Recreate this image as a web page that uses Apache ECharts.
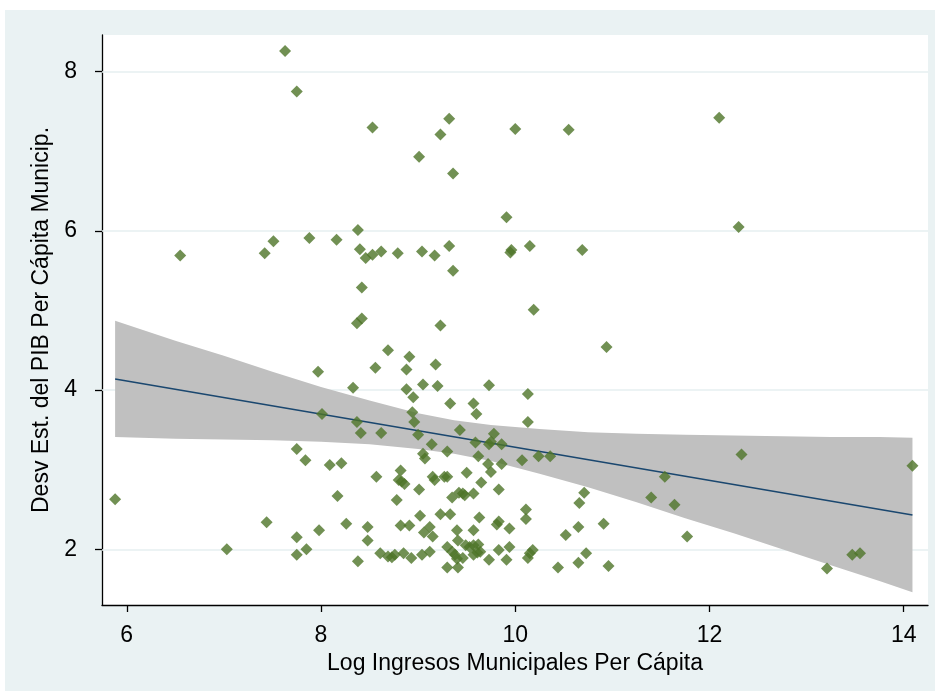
<!DOCTYPE html>
<html>
<head>
<meta charset="utf-8">
<script src="https://cdn.jsdelivr.net/npm/echarts@6/dist/echarts.min.js"></script>
<style>
html,body{margin:0;padding:0;background:#fff;}
#chart{width:939px;height:691px;}
</style>
</head>
<body>
<div id="chart"></div>
<script>
// Scatter data: Log Ingresos Municipales Per Cápita (x) vs Desv Est. del PIB Per Cápita Municip. (y)
const logIngresos = [
7.63,7.75,8.53,8.38,6.55,7.42,7.51,7.88,8.16,8.40,8.46,8.53,8.62,8.42,8.37,8.42,
9.32,9.23,10.00,10.55,9.01,9.36,9.91,8.79,9.04,9.17,9.32,9.36,9.96,9.95,10.15,10.69,10.19,9.23,
12.10,12.30,12.33,14.09,13.21,13.47,13.55,11.77,10.94,
8.69,8.91,8.56,8.88,9.18,7.97,8.33,8.88,9.05,9.20,8.95,9.33,8.01,8.94,8.96,8.37,8.41,8.62,9.00,9.43,
9.73,9.57,9.60,10.13,10.13,9.78,9.14,9.59,9.73,9.75,9.86,9.30,9.05,9.07,9.62,10.07,10.24,10.36,
9.72,9.86,9.75,8.82,8.80,8.86,8.83,9.15,9.17,9.27,9.30,9.50,9.65,9.01,9.83,8.78,9.35,9.42,9.46,9.48,9.57,
10.71,10.66,9.23,9.33,9.02,9.63,10.11,10.11,8.82,8.91,9.12,9.06,9.15,9.40,9.57,9.83,9.81,9.94,10.65,10.52,10.91,
9.41,9.49,9.53,9.57,9.62,9.30,9.35,9.38,9.64,9.57,9.46,9.73,9.83,9.94,9.91,10.15,10.18,10.13,10.73,10.65,10.44,10.96,
9.30,9.41,9.04,9.12,8.85,8.93,11.54,11.40,11.64,
7.75,7.84,8.09,8.21,8.57,8.17,5.88,7.44,8.26,8.48,7.98,7.75,8.48,7.03,7.85,7.75,8.38,8.61,8.69,8.73,8.76,9.40,9.61
];
const desvPIB = [
8.26,7.75,7.30,6.01,5.69,5.72,5.87,5.91,5.89,5.77,5.66,5.70,5.74,5.29,4.84,4.90,
7.41,7.21,7.28,7.27,6.93,6.72,6.17,5.72,5.74,5.69,5.81,5.50,5.76,5.73,5.81,5.76,5.01,4.81,
7.42,6.05,3.19,3.05,1.76,1.93,1.95,2.16,4.54,
4.50,4.42,4.28,4.26,4.32,4.23,4.03,4.01,4.07,4.05,3.91,3.83,3.70,3.72,3.60,3.60,3.46,3.46,3.44,3.50,
4.06,3.83,3.70,3.95,3.60,3.45,3.32,3.34,3.32,3.35,3.32,3.23,3.20,3.14,3.17,3.12,3.17,3.17,
3.07,3.07,2.97,2.99,2.87,2.82,2.85,2.91,2.87,2.91,2.91,2.96,2.84,2.75,2.75,2.62,2.65,2.71,2.70,2.68,2.70,
2.71,2.58,2.44,2.44,2.42,2.40,2.50,2.38,2.30,2.30,2.28,2.21,2.16,2.24,2.24,2.35,2.31,2.26,2.28,2.18,2.32,
2.11,2.05,2.03,2.05,2.06,2.03,1.97,1.93,1.97,1.93,1.89,1.87,1.99,2.03,1.87,1.95,1.99,1.89,1.95,1.83,1.77,1.79,
1.77,1.77,1.93,1.97,1.95,1.89,2.91,2.65,2.56,
3.26,3.12,3.06,3.08,2.91,2.67,2.63,2.34,2.32,2.28,2.24,2.15,2.11,2.00,2.00,1.93,1.85,1.95,1.91,1.90,1.93,1.88,1.96
];
// Linear fit line
const fitX = [5.88, 14.09];
const fitY = [4.14, 2.43];
// Confidence band
const bandX     = [5.88, 6.5, 7.0, 7.5, 8.0, 8.5, 9.0, 9.37, 9.75, 10.25, 10.75, 11.25, 11.75, 12.25, 12.75, 13.25, 13.75, 14.09];
const bandUpper = [4.87, 4.62, 4.43, 4.23, 4.04, 3.87, 3.71, 3.62, 3.56, 3.51, 3.47, 3.45, 3.44, 3.43, 3.42, 3.41, 3.41, 3.40];
const bandLower = [3.41, 3.39, 3.38, 3.37, 3.35, 3.32, 3.26, 3.20, 3.11, 2.95, 2.78, 2.59, 2.39, 2.20, 2.00, 1.80, 1.60, 1.46];
// Axis ticks
const xTicks = [6, 8, 10, 12, 14];
const yTicks = [2, 4, 6, 8];

const points = logIngresos.map((x, i) => [x, desvPIB[i]]);
const fitData = fitX.map((x, i) => [x, fitY[i]]);

const FONT = 'Liberation Sans, Arial, sans-serif';
const chart = echarts.init(document.getElementById('chart'), null, {renderer: 'canvas'});
chart.setOption({
  animation: false,
  backgroundColor: '#ffffff',
  graphic: [{
    type: 'rect', z: -10, silent: true,
    shape: {x: 5, y: 10, width: 930, height: 681},
    style: {fill: '#eaf2f3'}
  }],
  grid: {
    left: 102, top: 35, right: 11, bottom: 86,
    show: true, backgroundColor: '#ffffff', borderWidth: 0
  },
  xAxis: {
    type: 'value', min: 5.745, max: 14.25,
    name: 'Log Ingresos Municipales Per Cápita',
    nameLocation: 'middle', nameGap: 45,
    nameTextStyle: {fontFamily: FONT, fontSize: 23, color: '#000'},
    axisLine: {show: true, onZero: false, lineStyle: {color: '#000', width: 1.3}},
    axisTick: {show: true, length: 7, customValues: xTicks, lineStyle: {color: '#000', width: 1.3}},
    axisLabel: {customValues: xTicks, fontFamily: FONT, fontSize: 23, color: '#000', margin: 19},
    splitLine: {show: false}
  },
  yAxis: {
    type: 'value', min: 1.30, max: 8.461,
    name: 'Desv Est. del PIB Per Cápita Municip.',
    nameLocation: 'middle', nameGap: 46, nameRotate: 90,
    nameTextStyle: {fontFamily: FONT, fontSize: 23, color: '#000'},
    axisLine: {show: true, onZero: false, lineStyle: {color: '#000', width: 1.3}},
    axisTick: {show: true, length: 7, customValues: yTicks, lineStyle: {color: '#000', width: 1.3}},
    axisLabel: {customValues: yTicks, fontFamily: FONT, fontSize: 23, color: '#000', margin: 25},
    splitLine: {show: false}
  },
  series: [
    {
      type: 'line', name: 'grid', data: [], z: 1, silent: true, symbol: 'none',
      markLine: {
        silent: true, symbol: 'none', label: {show: false}, z: 1,
        lineStyle: {color: '#e6eff1', type: 'solid', width: 1.5},
        data: yTicks.map(v => ({yAxis: v}))
      }
    },
    {
      type: 'custom', name: 'ci', z: 2, silent: true,
      data: [[bandX[0], bandUpper[0]]],
      renderItem: function (params, api) {
        const pts = [];
        for (let i = 0; i < bandX.length; i++) pts.push(api.coord([bandX[i], bandUpper[i]]));
        for (let i = bandX.length - 1; i >= 0; i--) pts.push(api.coord([bandX[i], bandLower[i]]));
        return {type: 'polygon', shape: {points: pts}, style: {fill: '#c0c0c0', stroke: null}};
      }
    },
    {
      type: 'line', name: 'fit', z: 3, data: fitData, symbol: 'none',
      lineStyle: {color: '#1a476f', width: 1.6}
    },
    {
      type: 'scatter', name: 'obs', z: 4, data: points,
      symbol: 'diamond', symbolSize: 12,
      itemStyle: {color: '#4e7428'}
    }
  ]
});
</script>
</body>
</html>
